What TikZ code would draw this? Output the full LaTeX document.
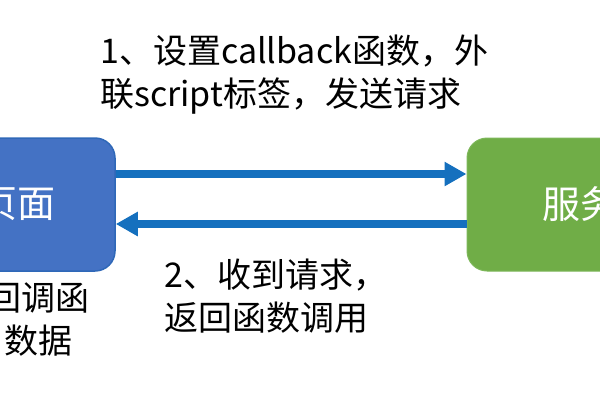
\documentclass[tikz,border=0pt]{standalone}
\usepackage{fontspec}
\setmainfont{Noto Sans CJK SC}
\usetikzlibrary{arrows.meta}
\definecolor{pagefill}{HTML}{4472C4}
\definecolor{pageline}{HTML}{2F68B8}
\definecolor{srvfill}{HTML}{70AD47}
\definecolor{srvline}{HTML}{7DB75A}
\definecolor{linkblue}{HTML}{1570BE}

\begin{document}
\begin{tikzpicture}[x=1pt,y=-1pt,
    box/.style={rounded corners=20pt,minimum height=133pt,inner sep=0pt,
                text=white,font=\fontsize{38}{38}\selectfont},
    msg/.style={inner sep=0pt,font=\fontsize{34}{43}\selectfont},
    link/.style={draw=linkblue,line width=7.5pt,-{Triangle[length=22pt,width=23pt]}}]
    \useasboundingbox (0,0) rectangle (600,400);
    \clip (0,0) rectangle (600,400);

    \node[box,fill=pagefill,draw=pageline,line width=1.5pt,minimum width=194pt] (client) at (18,204.5) {页面};
    \node[box,fill=srvfill,draw=srvline,line width=1pt,minimum width=226pt] (server) at (580,204.5) {服务};

    \node[msg,align=left,anchor=north west] (ask) at (100,35)
        {1、设置callback函数，外\\联script标签，发送请求};
    \node[msg,align=left,anchor=north west] (reply) at (164,259)
        {2、收到请求，\\返回函数调用};
    \node[msg,align=center,anchor=north] (note) at (38.5,282)
        {回调函\\数据};

    \draw[link] ([yshift=30.5pt]client.east) -- ([yshift=30.5pt]server.west);
    \draw[link] ([yshift=-19.5pt]server.west) -- ([yshift=-19.5pt]client.east);
\end{tikzpicture}
\end{document}
